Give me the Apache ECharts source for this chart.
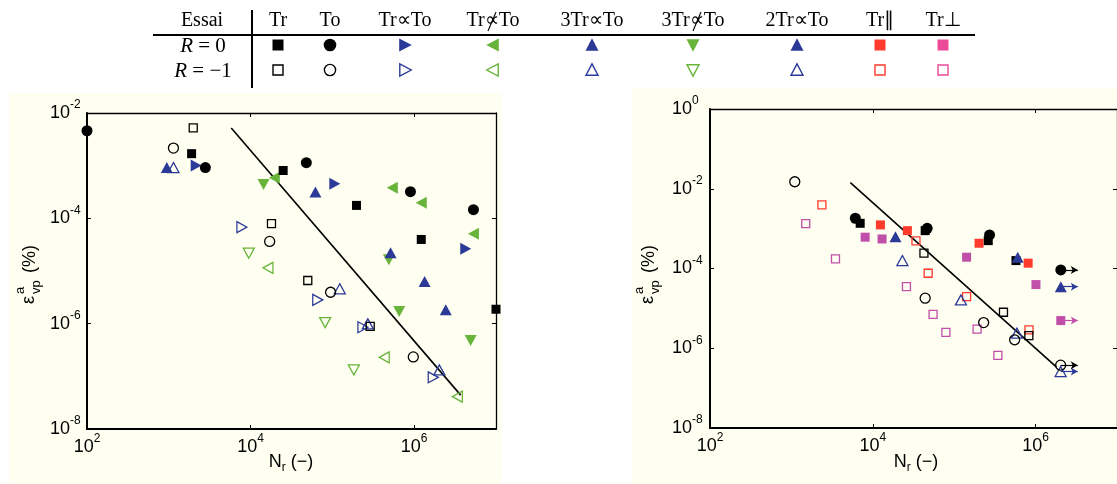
<!DOCTYPE html>
<html>
<head>
<meta charset="utf-8">
<script src="https://cdn.jsdelivr.net/npm/echarts@6/dist/echarts.min.js"></script>
<style>html,body{margin:0;padding:0;background:#fff;}#chart{width:1117px;height:484px;}</style>
</head>
<body>
<div id="chart"></div>
<script>
// ---------- DATA (N_r, strain in %) ----------
// Left panel
const L_Tr_R0 = [[1.9e3,1.69e-3],[2.5e4,8.1e-4],[1.97e5,1.76e-4],[1.22e6,3.97e-5],[1.0e7,1.88e-6]];
const L_Tr_R1 = [[1.99e3,5.2e-3],[1.8e4,7.9e-5],[5.0e4,6.6e-6],[2.9e5,8.9e-7]];
const L_To_R0 = [[1.0e2,4.6e-3],[2.8e3,9.2e-4],[4.8e4,1.14e-3],[9.0e5,3.2e-4],[5.3e6,1.46e-4]];
const L_To_R1 = [[1.14e3,2.16e-3],[1.71e4,3.64e-5],[9.5e4,3.95e-6],[9.75e5,2.34e-7]];
const L_TrPTo_R0 = [[2.16e3,1.01e-3],[1.07e5,4.55e-4],[4.27e6,2.64e-5]];
const L_TrPTo_R1 = [[7.83e3,6.8e-5],[6.62e4,2.83e-6],[2.36e5,8.55e-7],[1.71e6,9.6e-8]];
const L_TrNTo_R0 = [[1.95e4,5.9e-4],[5.4e5,3.82e-4],[1.22e6,1.98e-4],[5.3e6,5.1e-5]];
const L_TrNTo_R1 = [[1.63e4,1.15e-5],[4.3e5,2.3e-7],[3.37e6,4.1e-8]];
const L_3TrPTo_R0 = [[9.46e2,9.2e-4],[6.2e4,3.15e-4],[5.14e5,2.22e-5],[1.34e6,6.3e-6],[2.43e6,1.83e-6]];
const L_3TrPTo_R1 = [[1.14e3,9.2e-4],[1.23e5,4.6e-6],[2.71e5,9.9e-7],[2.03e6,1.32e-7]];
const L_3TrNTo_R0 = [[1.44e4,4.4e-4],[4.9e5,1.63e-5],[6.56e5,1.7e-6],[4.9e6,4.8e-7]];
const L_3TrNTo_R1 = [[9.5e3,2.18e-5],[8.15e4,1.05e-6],[1.83e5,1.32e-7]];
const L_fit = [[5.8e3,5.2e-3],[3.7e6,4.4e-8]];

// Right panel
const R_Tr_R0 = [[7.0e3,1.36e-3],[4.4e4,8.9e-4],[2.62e5,5.0e-4],[5.74e5,1.58e-4]];
const R_Tr_R1 = [[4.25e4,2.42e-4],[4.03e5,8.0e-6],[8.26e5,2.08e-6]];
const R_To_R0 = [[6.1e3,1.82e-3],[4.66e4,1.02e-3],[2.72e5,6.95e-4]];
const R_To_R1 = [[1.1e3,1.5e-2],[4.4e4,1.8e-5],[2.3e5,4.4e-6],[5.53e5,1.63e-6]];
const R_2TrPTo_R0 = [[1.9e4,6.3e-4],[6.03e5,1.92e-4]];
const R_2TrPTo_R1 = [[2.31e4,1.58e-4],[1.21e5,1.63e-5],[5.9e5,2.39e-6]];
const R_TrPar_R0 = [[1.24e4,1.24e-3],[2.66e4,8.9e-4],[2.02e5,4.3e-4],[8.1e5,1.36e-4]];
const R_TrPar_R1 = [[2.37e3,3.93e-3],[3.39e4,4.92e-4],[4.79e4,7.6e-5],[1.42e5,1.98e-5],[8.3e5,2.89e-6]];
const R_TrPerp_R0 = [[8.05e3,6.1e-4],[1.3e4,5.5e-4],[1.42e5,1.92e-4],[1.01e6,3.95e-5]];
const R_TrPerp_R1 = [[1.5e3,1.33e-3],[3.48e3,1.74e-4],[2.59e4,3.52e-5],[5.5e4,7.1e-6],[7.9e4,2.5e-6],[1.91e5,3.0e-6],[3.44e5,6.6e-7]];
const R_fit = [[5.3e3,1.42e-2],[1.81e6,3.36e-7]];
// run-outs (no failure), shown with an arrow
const R_To_R0_runout = [[2.04e6,9.2e-5]];
const R_To_R1_runout = [[2.03e6,3.77e-7]];
const R_2TrPTo_R0_runout = [[2.04e6,3.5e-5]];
const R_2TrPTo_R1_runout = [[2.03e6,2.6e-7]];
const R_TrPerp_R0_runout = [[2.04e6,4.94e-6]];
const runoutArrowTo = 3.3e6;

// Legend table texts
const legendCols = ['Tr', 'To', 'Tr\u221DTo', 'Tr\u221DTo', '3Tr\u221DTo', '3Tr\u221DTo', '2Tr\u221DTo', 'Tr\u2225', 'Tr\u22A5'];
const legendNegated = [false, false, false, true, false, true, false, false, false];
const legendRows = ['R = 0', 'R = \u22121'];

// ---------- STYLE ----------
const C = {black:'#000000', blue:'#2b3a97', green:'#68b43a', red:'#ff3b2e', pink:'#c04fa9', lpink:'#ec4a98'};
const BG = '#fefef1';
const L = v => [Math.log10(v[0]), Math.log10(v[1])];

const SYM = {
  sq: {symbol:'rect', size:9, rot:0},
  ci: {symbol:'circle', size:11, rot:0},
  up: {symbol:'triangle', size:[12,11], rot:0},
  dn: {symbol:'triangle', size:[12,11], rot:180},
  ri: {symbol:'triangle', size:[12,11], rot:-90},
  le: {symbol:'triangle', size:[12,11], rot:90}
};

function sc(data, panel, sym, color, filled, runout) {
  const s = SYM[sym];
  const ax = panel === 0 ? 0 : 2;
  const o = {
    type:'scatter', xAxisIndex:ax, yAxisIndex:ax, clip:false,
    symbol:s.symbol, symbolSize: filled ? s.size : (Array.isArray(s.size) ? [s.size[0]-1, s.size[1]-1] : s.size-1),
    symbolRotate:s.rot,
    itemStyle: filled ? {color:color, borderWidth:0, opacity:1} : {color:'rgba(0,0,0,0)', borderColor:color, borderWidth:1.3, opacity:1},
    data:data.map(L), z:3
  };
  if (runout) {
    o.markLine = {
      silent:true, symbol:['none','arrow'], symbolSize:[6,7], animation:false,
      label:{show:false}, lineStyle:{color:color, width:1.2, type:'solid', opacity:1},
      emphasis:{disabled:true},
      data:data.map(p => [{coord:[Math.log10(p[0]), Math.log10(p[1])]}, {coord:[Math.log10(runoutArrowTo), Math.log10(p[1])]}])
    };
  }
  return o;
}
function fit(data, panel) {
  const ax = panel === 0 ? 0 : 2;
  return {type:'line', xAxisIndex:ax, yAxisIndex:ax, data:data.map(L), symbol:'none',
    lineStyle:{color:'#000', width:1.6}, z:2, silent:true};
}

const FONT = 'Liberation Sans';
const labelRich = {
  b:{fontSize:18, lineHeight:28, verticalAlign:'middle', fontFamily:FONT, color:'#000'},
  s:{fontSize:12, lineHeight:10, verticalAlign:'top', fontFamily:FONT, color:'#000'}
};
const fmt = v => '{b|10}{s|' + (v < 0 ? '-' + (-v) : String(v)) + '}';

function xAx(grid, min, max, pos, labels) {
  return {type:'value', gridIndex:grid, min:min, max:max, interval:2, position:pos,
    axisLine:{show:true, onZero:false, lineStyle:{color:'#000', width: pos==='bottom' ? 2 : 1.3}},
    axisTick:{show:true, inside:true, length:4, lineStyle:{color:'#000', width:1}},
    axisLabel:{show:labels, margin:4, formatter:fmt, rich:labelRich, showMinLabel:true, showMaxLabel:false},
    splitLine:{show:false}};
}
function yAx(grid, min, max, pos, labels) {
  return {type:'value', gridIndex:grid, min:min, max:max, interval:2, position:pos,
    axisLine:{show:true, onZero:false, lineStyle:{color:'#000', width: pos==='left' ? 2 : 1.3}},
    axisTick:{show:true, inside:true, length:4, lineStyle:{color:'#000', width:1}},
    axisLabel:{show:labels, margin: grid===0 ? 37 : 38, align:'left', formatter:fmt, rich:labelRich, showMinLabel:true, showMaxLabel:true},
    splitLine:{show:false}};
}

// ---------- LEGEND TABLE (graphic) ----------
const colX = [278, 330, 405, 493, 592, 693, 797, 880, 943];
const rowY = [45, 70];
function mark(kind, cx, cy, color, filled) {
  const st = filled ? {fill:color, stroke:null} : {fill:'none', stroke:color, lineWidth:1.4};
  if (kind === 'sq') { const h = filled ? 5.5 : 5; return {type:'rect', shape:{x:cx-h, y:cy-h, width:2*h, height:2*h}, style:st}; }
  if (kind === 'ci') return {type:'circle', shape:{cx:cx, cy:cy, r: filled ? 6.3 : 5.6}, style:st};
  const a = filled ? 6.5 : 6, b = filled ? 5.8 : 5.2;
  let pts;
  if (kind === 'up') pts = [[cx-a, cy+b], [cx+a, cy+b], [cx, cy-b-1]];
  if (kind === 'dn') pts = [[cx-a, cy-b], [cx+a, cy-b], [cx, cy+b+1]];
  if (kind === 'ri') pts = [[cx-b, cy-a], [cx-b, cy+a], [cx+b+1, cy]];
  if (kind === 'le') pts = [[cx+b, cy-a], [cx+b, cy+a], [cx-b-1, cy]];
  return {type:'polygon', shape:{points:pts}, style:st};
}
const legKinds = ['sq','ci','ri','le','up','dn','up','sq','sq'];
const legColors = [C.black, C.black, C.blue, C.green, C.blue, C.green, C.blue, C.red, C.lpink];
const SERIF = 'Liberation Serif';
const graphics = [];
// panel backgrounds
graphics.push({type:'rect', shape:{x:9, y:93, width:493, height:391}, style:{fill:BG}, z:-10, silent:true});
graphics.push({type:'rect', shape:{x:632, y:88, width:485, height:396}, style:{fill:BG}, z:-10, silent:true});
// table lines
graphics.push({type:'line', shape:{x1:153, y1:35, x2:975, y2:35}, style:{stroke:'#000', lineWidth:2}});
graphics.push({type:'line', shape:{x1:252, y1:10, x2:252, y2:88}, style:{stroke:'#000', lineWidth:2}});
graphics.push({type:'text', x:202, y:21, style:{text:'Essai', font:'20px ' + SERIF, fill:'#000', align:'center', verticalAlign:'middle'}});
legendCols.forEach((t, i) => {
  graphics.push({type:'text', x:colX[i], y:21, style:{text:t, font:'20px ' + SERIF, fill:'#000', align:'center', verticalAlign:'middle'}});
  if (legendNegated[i]) {
    // slash through the proportional sign
    const cx = colX[i] - 1 + (i === 3 ? 0 : 5);
    graphics.push({type:'line', shape:{x1:cx+4, y1:12, x2:cx-4, y2:31}, style:{stroke:'#000', lineWidth:1.1}});
  }
  graphics.push(mark(legKinds[i], colX[i], rowY[0], legColors[i], true));
  graphics.push(mark(legKinds[i], colX[i], rowY[1], legColors[i], false));
});
legendRows.forEach((t, i) => {
  const parts = t.split(' = ');
  graphics.push({type:'text', x:203, y:rowY[i] + 1, style:{
    text:'{i|' + parts[0] + '}{n| = ' + parts[1] + '}', align:'center', verticalAlign:'middle',
    rich:{i:{fontFamily:SERIF, fontSize:21, fontStyle:'italic', fill:'#000', color:'#000'}, n:{fontFamily:SERIF, fontSize:21, fill:'#000', color:'#000'}}}});
});
// axis names
function xName(x, y) {
  return {type:'text', x:x, y:y, style:{text:'{n|N}{r|r}{n| (\u2212)}', align:'center', verticalAlign:'middle',
    rich:{n:{fontFamily:FONT, fontSize:18, lineHeight:18, verticalAlign:'top', color:'#000', fill:'#000'},
          r:{fontFamily:FONT, fontSize:12, lineHeight:30, verticalAlign:'middle', color:'#000', fill:'#000'}}}};
}
function yName(x, y) {
  const f = (s, t, xx, yy) => ({type:'text', x:xx, y:yy, style:{text:t, font:s + 'px ' + FONT, fill:'#000', align:'left', verticalAlign:'middle'}});
  return {type:'group', x:x, y:y, rotation:Math.PI/2, children:[
    f(18, '\u03B5', 0, 0), f(13, 'a', 10, -9), f(13, 'vp', 10, 7), f(18, '(%)', 31, 1)
  ]};
}
graphics.push(xName(291, 468));
graphics.push(xName(916, 468));
graphics.push(yName(29, 304));
graphics.push(yName(648, 304));

const option = {
  animation:false,
  backgroundColor:'#ffffff',
  textStyle:{fontFamily:FONT},
  grid:[
    {left:87, top:113, width:409, height:316, show:false},
    {left:710, top:109, width:411, height:319, show:false}
  ],
  xAxis:[
    xAx(0, 2, 7, 'bottom', true), xAx(0, 2, 7, 'top', false),
    xAx(1, 2, 7, 'bottom', true), xAx(1, 2, 7, 'top', false)
  ],
  yAxis:[
    yAx(0, -8, -2, 'left', true), yAx(0, -8, -2, 'right', false),
    yAx(1, -8, 0, 'left', true), yAx(1, -8, 0, 'right', false)
  ],
  graphic:graphics,
  series:[
    fit(L_fit, 0),
    sc(L_3TrNTo_R0, 0, 'dn', C.green, true), sc(L_3TrNTo_R1, 0, 'dn', C.green, false),
    sc(L_TrNTo_R0, 0, 'le', C.green, true), sc(L_TrNTo_R1, 0, 'le', C.green, false),
    sc(L_3TrPTo_R0, 0, 'up', C.blue, true), sc(L_3TrPTo_R1, 0, 'up', C.blue, false),
    sc(L_TrPTo_R0, 0, 'ri', C.blue, true), sc(L_TrPTo_R1, 0, 'ri', C.blue, false),
    sc(L_Tr_R0, 0, 'sq', C.black, true), sc(L_Tr_R1, 0, 'sq', C.black, false),
    sc(L_To_R0, 0, 'ci', C.black, true), sc(L_To_R1, 0, 'ci', C.black, false),

    fit(R_fit, 1),
    sc(R_TrPerp_R0, 1, 'sq', C.pink, true), sc(R_TrPerp_R1, 1, 'sq', C.pink, false),
    sc(R_TrPerp_R0_runout, 1, 'sq', C.pink, true, true),
    sc(R_TrPar_R0, 1, 'sq', C.red, true), sc(R_TrPar_R1, 1, 'sq', C.red, false),
    sc(R_Tr_R0, 1, 'sq', C.black, true), sc(R_Tr_R1, 1, 'sq', C.black, false),
    sc(R_2TrPTo_R0, 1, 'up', C.blue, true), sc(R_2TrPTo_R1, 1, 'up', C.blue, false),
    sc(R_2TrPTo_R0_runout, 1, 'up', C.blue, true, true), sc(R_2TrPTo_R1_runout, 1, 'up', C.blue, false, true),
    sc(R_To_R0, 1, 'ci', C.black, true), sc(R_To_R1, 1, 'ci', C.black, false),
    sc(R_To_R0_runout, 1, 'ci', C.black, true, true), sc(R_To_R1_runout, 1, 'ci', C.black, false, true)
  ]
};
const chart = echarts.init(document.getElementById('chart'), null, {renderer:'canvas'});
chart.setOption(option);
</script>
</body>
</html>
